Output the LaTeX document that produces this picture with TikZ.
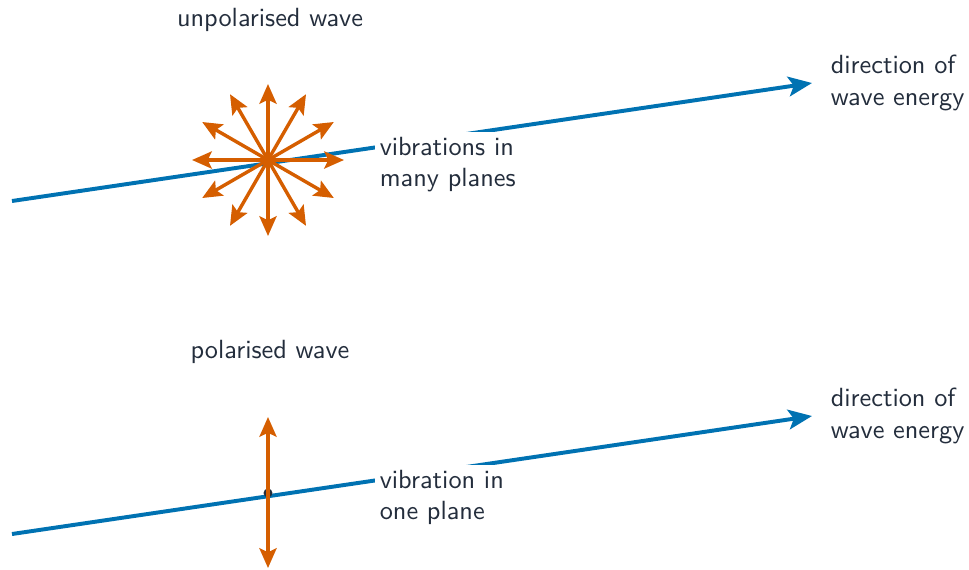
\documentclass[tikz,border=0pt]{standalone}
\usepackage{tikz}
\usetikzlibrary{arrows.meta, positioning}
\definecolor{waveblue}{RGB}{0, 114, 178}
\definecolor{viborange}{RGB}{213, 94, 0}
\definecolor{inkgray}{RGB}{35, 45, 60}

\begin{document}
\begin{tikzpicture}[
    x=0.01336cm, y=-0.01336cm,
    font=\sffamily, text=inkgray,
    wave/.style={line width=1.5pt, waveblue, -{Stealth[length=9pt, width=7.5pt, inset=2pt]}},
    vib/.style={line width=1.3pt, viborange, -{Stealth[length=7.5pt, width=6.5pt, inset=1.5pt]}},
    vibboth/.style={line width=1.3pt, viborange, {Stealth[length=7.5pt, width=6.5pt, inset=1.5pt]}-{Stealth[length=7.5pt, width=6.5pt, inset=1.5pt]}},
    title/.style={align=center, inner sep=2pt},
    note/.style={align=left, fill=white, inner sep=2pt},
    dirnote/.style={align=left, inner sep=2pt, anchor=west}
]
\useasboundingbox (0,0) rectangle (969,569);

% unpolarised wave
\coordinate (start1) at (12,201);
\coordinate (end1) at (812,83);
\coordinate (centre1) at (268,160);

\draw[wave] (start1) -- (end1);

\node (unpol) [title] at (270,20) {unpolarised wave};
\node (many) [note, anchor=north west] at (374,131) {vibrations in\\many planes};
\node (dir1) [dirnote] at (825,83) {direction of\\wave energy};

\fill[inkgray] (centre1) circle (1.7pt);
\foreach \ang in {0,30,...,330}
    \draw[vib] (centre1) -- ++(\ang:76);

% polarised wave
\coordinate (start2) at (12,534);
\coordinate (end2) at (812,416);
\coordinate (centre2) at (268,493);
\coordinate (top2) at (268,417);
\coordinate (bot2) at (268,568);

\draw[wave] (start2) -- (end2);

\node (pol) [title] at (270,352) {polarised wave};
\node (one) [note, anchor=north west] at (374,464) {vibration in\\one plane};
\node (dir2) [dirnote] at (825,416) {direction of\\wave energy};

\fill[inkgray] (centre2) circle (1.7pt);
\draw[vibboth] (top2) -- (bot2);

\end{tikzpicture}
\end{document}
